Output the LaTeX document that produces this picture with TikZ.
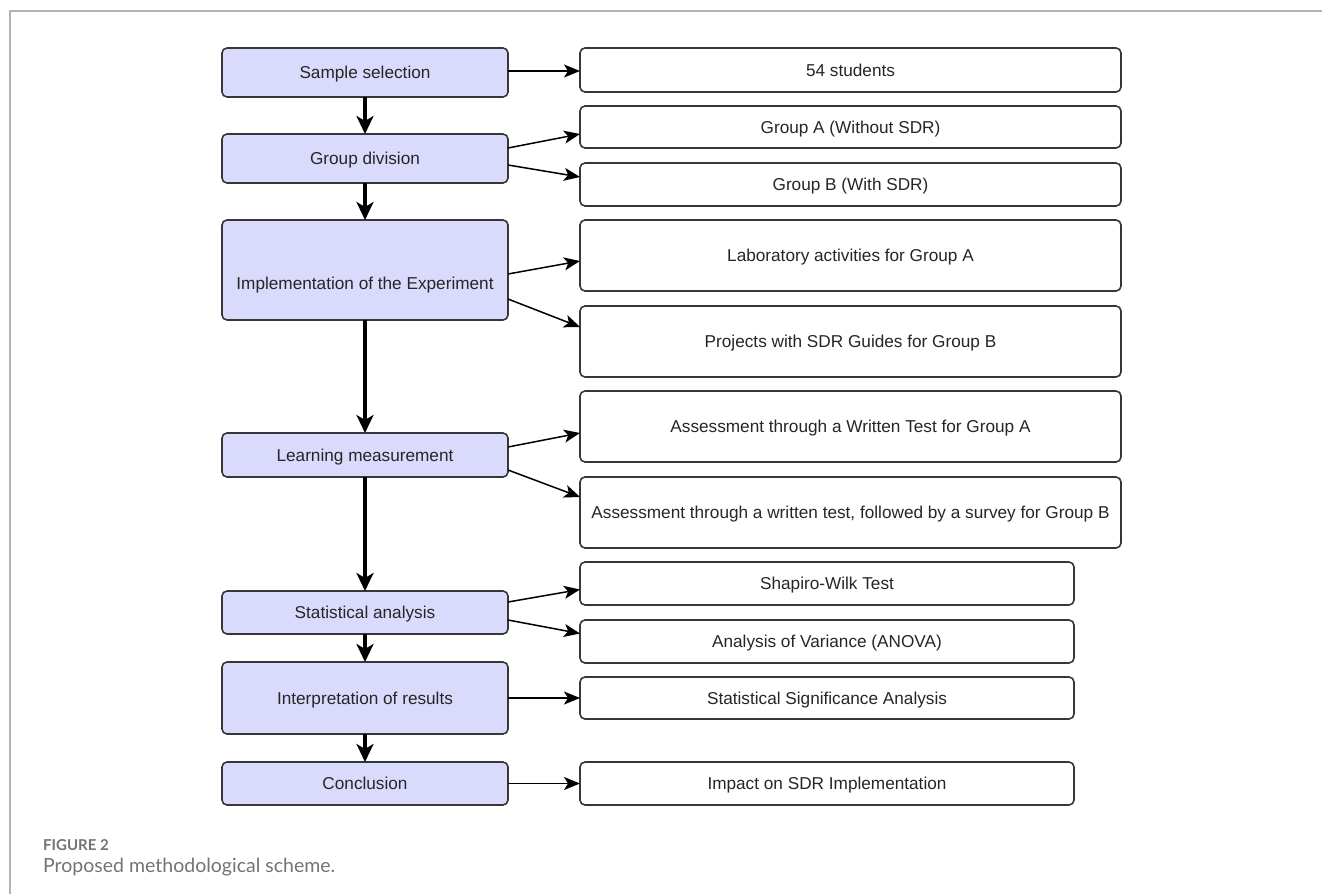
\documentclass[tikz,border=0pt]{standalone}
\usepackage{fontspec}
\setmainfont{Liberation Sans}
\newfontfamily\capfont{Lato}
\usetikzlibrary{positioning}
\usetikzlibrary{arrows.meta}
\definecolor{stagefill}{RGB}{218,218,252}
\definecolor{edgegray}{RGB}{55,55,55}
\definecolor{framegray}{RGB}{178,178,178}
\definecolor{capgray}{RGB}{115,115,115}
\tikzset{
    stage/.style = {draw=edgegray, fill=stagefill, rounded corners=5pt,
        line width=1.6pt, outer sep=0pt,
        minimum width=286pt, inner sep=0pt, align=center,
        text height=12.5pt, text depth=0pt,
        font=\fontsize{17.2}{20}\selectfont, text=black!85},
    result/.style = {draw=edgegray, fill=white, rounded corners=5pt,
        line width=1.6pt, outer sep=0pt, anchor=north west, inner sep=0pt, align=center,
        text height=12.5pt, text depth=0pt,
        font=\fontsize{17.2}{20}\selectfont, text=black!85},
    flow/.style = {draw, line width=3.2pt, -{Stealth[length=18pt,width=17pt,inset=5pt]}},
    branch/.style = {draw, line width=1.5pt, -{Stealth[length=16pt,width=13pt,inset=4pt]}},
    caption/.style = {anchor=base west, inner sep=0pt, text=capgray}
}
\begin{document}
\begin{tikzpicture}[x=1pt, y=-1pt, node distance=37pt]
            \useasboundingbox (0,0) rectangle (1322,894);
            \draw [framegray, line width=1.2pt] (1322,11) -- (10,11) -- (10,894);
            % stages
            \node [stage, minimum height=49pt, anchor=north west] (sel) at (222,48) {Sample selection};
            \node [stage, minimum height=49pt, below=of sel] (grp) {Group division};
            \node [stage, minimum height=100pt, below=of grp, text height=38pt] (impl) {Implementation of the Experiment};
            \node [stage, minimum height=44pt, below=113pt of impl] (meas) {Learning measurement};
            \node [stage, minimum height=43pt, below=114pt of meas] (stat) {Statistical analysis};
            \node [stage, minimum height=72pt, below=28pt of stat] (interp) {Interpretation of results};
            \node [stage, minimum height=43pt, below=28pt of interp] (concl) {Conclusion};
            % results
            \node [result, minimum width=541pt, minimum height=44pt] (stud) at (580,48) {54 students};
            \node [result, minimum width=541pt, minimum height=42pt] (grpA) at (580,106) {Group A (Without SDR)};
            \node [result, minimum width=541pt, minimum height=43pt] (grpB) at (580,163) {Group B (With SDR)};
            \node [result, minimum width=541pt, minimum height=71pt] (lab) at (580,220) {Laboratory activities for Group A};
            \node [result, minimum width=541pt, minimum height=71pt] (proj) at (580,306) {Projects with SDR Guides for Group B};
            \node [result, minimum width=541pt, minimum height=71pt] (testA) at (580,391) {Assessment through a Written Test for Group A};
            \node [result, minimum width=541pt, minimum height=71pt] (testB) at (580,477) {Assessment through a written test, followed by a survey for Group B};
            \node [result, minimum width=494pt, minimum height=43pt] (shap) at (580,562) {Shapiro-Wilk Test};
            \node [result, minimum width=494pt, minimum height=43pt] (anova) at (580,620) {Analysis of Variance (ANOVA)};
            \node [result, minimum width=494pt, minimum height=42pt] (signif) at (580,677) {Statistical Significance Analysis};
            \node [result, minimum width=494pt, minimum height=43pt] (impact) at (580,762) {Impact on SDR Implementation};
            % main flow
            \draw [flow] (sel) -- (grp);
            \draw [flow] (grp) -- (impl);
            \draw [flow] (impl) -- (meas);
            \draw [flow] (meas) -- (stat);
            \draw [flow] (stat) -- (interp);
            \draw [flow] (interp) -- (concl);
            % branches
            \draw [branch] ([yshift=1.5pt]sel.east) -- ([yshift=-1pt]stud.west);
            \draw [branch] ([yshift=10.5pt]grp.east) -- ([yshift=-7pt]grpA.west);
            \draw [branch] ([yshift=-6.5pt]grp.east) -- ([yshift=7.5pt]grpB.west);
            \draw [branch] ([yshift=-4pt]impl.east) -- ([yshift=-5.5pt]lab.west);
            \draw [branch] ([yshift=-29pt]impl.east) -- ([yshift=14.5pt]proj.west);
            \draw [branch] ([yshift=8pt]meas.east) -- ([yshift=-6.5pt]testA.west);
            \draw [branch] ([yshift=-15pt]meas.east) -- ([yshift=15.5pt]testB.west);
            \draw [branch] ([yshift=10.5pt]stat.east) -- ([yshift=-6pt]shap.west);
            \draw [branch] ([yshift=-7.5pt]stat.east) -- ([yshift=8pt]anova.west);
            \draw [branch] (interp) -- (signif);
            \draw [branch] (concl) -- (impact);
            % caption
            \node [caption, font=\capfont\bfseries\fontsize{15}{18}\selectfont] (fignum) at (43,850) {FIGURE 2};
            \node [caption, font=\capfont\fontsize{19.5}{23}\selectfont] (figtext) at (43,872) {Proposed methodological scheme.};
\end{tikzpicture}
\end{document}
